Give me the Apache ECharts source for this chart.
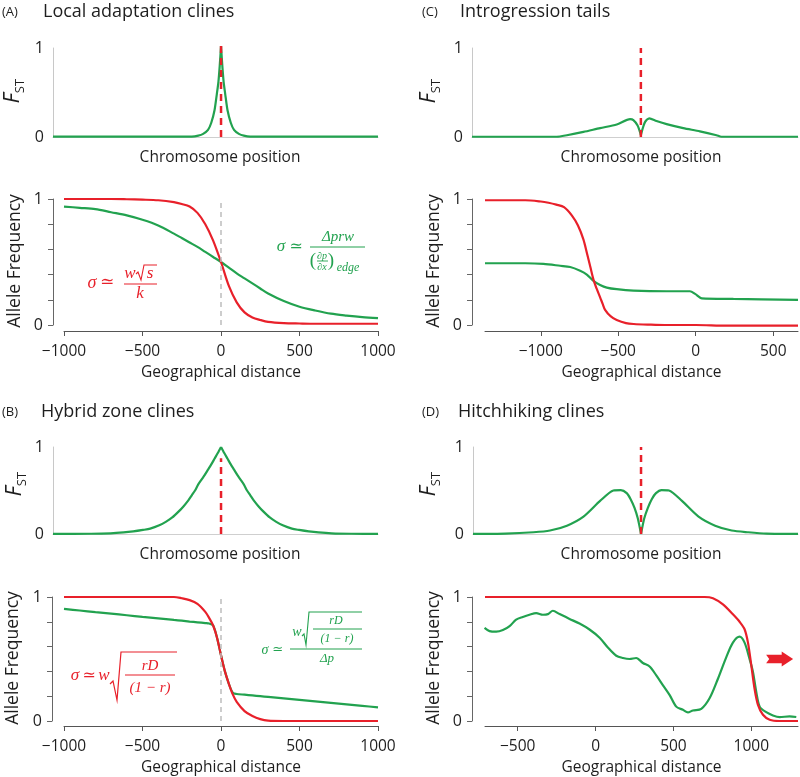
<!DOCTYPE html>
<html><head><meta charset="utf-8">
<script src="https://cdn.jsdelivr.net/npm/echarts@6/dist/echarts.min.js"></script>
<style>html,body{margin:0;padding:0;background:#fff}#c{width:800px;height:777px}</style>
</head><body><div id="c"></div><script>
// ---------- DATA ----------
// Top panels: F_ST along chromosome position (arbitrary 0..100 scale)
const fstA_x = [0, 42.7, 44.7, 46.2, 47.7, 48.7, 49.7, 50.4, 50.9, 51.3, 51.7, 52.1, 52.5, 53.0, 53.7, 54.7, 55.7, 57.2, 58.7, 60.7, 100];
const fstA_y = [0.005, 0.005, 0.015, 0.035, 0.08, 0.16, 0.3, 0.48, 0.62, 0.8, 1.02, 0.8, 0.62, 0.48, 0.3, 0.16, 0.08, 0.035, 0.015, 0.005, 0.005];
const fstB_x = [0, 11.7, 17.7, 21.7, 24.7, 27.7, 29.9, 32.7, 34.7, 36.7, 38.7, 40.2, 41.7, 42.7, 43.7, 44.7, 45.7, 46.7, 47.7, 48.7, 49.7, 50.7, 51.7,
                52.7, 53.7, 54.7, 55.7, 56.7, 57.7, 58.7, 59.7, 60.7, 61.7, 63.2, 64.7, 66.7, 68.7, 70.7, 73.5, 75.7, 78.7, 81.7, 85.7, 91.7, 100];
const fstB_y = [0.002, 0.003, 0.008, 0.018, 0.03, 0.047, 0.062, 0.10, 0.14, 0.19, 0.26, 0.32, 0.39, 0.445, 0.50, 0.57, 0.625, 0.68, 0.74, 0.80, 0.865, 0.93, 1.0,
                0.93, 0.865, 0.80, 0.74, 0.68, 0.625, 0.57, 0.50, 0.445, 0.39, 0.32, 0.26, 0.19, 0.14, 0.10, 0.062, 0.047, 0.03, 0.018, 0.008, 0.003, 0.002];
const fstC_x = [0, 26, 29.1, 34.2, 39.3, 44.4, 48.5, 49.5, 50.8, 51.5, 51.8, 52.2, 53.1, 54.4, 56.6, 59.7, 64.8, 69.9, 75, 76.5, 100];
const fstC_y = [0.003, 0.003, 0.02, 0.057, 0.10, 0.14, 0.2, 0.19, 0.13, 0.06, 0.02, 0.075, 0.17, 0.21, 0.18, 0.145, 0.10, 0.064, 0.02, 0.003, 0.003];
const fstD_x = [0, 10, 18.6, 23.7, 28.9, 34.0, 39.1, 43.2, 45.5, 47.3, 48.5, 49.7, 50.7, 51.7, 52.7, 53.8, 55.0, 56.3, 58.0, 60.3, 64.3, 69.4, 74.5, 79.6, 84.7, 90.3, 100];
const fstD_y = [0.002, 0.005, 0.02, 0.04, 0.096, 0.2, 0.38, 0.50, 0.505, 0.47, 0.40, 0.30, 0.18, 0.0, 0.18, 0.30, 0.40, 0.47, 0.505, 0.50, 0.38, 0.2, 0.096, 0.04, 0.02, 0.005, 0.002];
const selectedSite = [51.7, 51.7, 51.8, 51.7];     // red dashed marker positions (A, B, C, D)
const selectedTop  = [1.03, 0.87, 1.0, 1.0];       // red dashed marker heights

// Bottom panels: allele frequency vs geographical distance
const geoA_x  = [-1000,-900,-800,-700,-600,-500,-400,-300,-250,-200,-150,-100,-50,0,50,100,150,200,250,300,400,500,600,700,800,900,1000];
const redA    = [1.0,1.0,1.0,1.0,0.998,0.995,0.99,0.975,0.96,0.94,0.89,0.80,0.67,0.50,0.31,0.18,0.10,0.06,0.04,0.025,0.015,0.012,0.01,0.01,0.01,0.01,0.01];
const greenA  = [0.94,0.93,0.92,0.895,0.87,0.835,0.79,0.725,0.69,0.655,0.62,0.58,0.54,0.50,0.455,0.41,0.37,0.33,0.29,0.25,0.19,0.145,0.115,0.09,0.075,0.063,0.055];

const geoB_x  = [-1000,-900,-800,-700,-600,-500,-400,-300,-250,-200,-150,-100,-75,-50,-25,0,25,50,75,100,150,200,250,300,400,500,600,700,800,900,1000];
const redB    = [1,1,1,1,1,1,1,1,0.99,0.975,0.945,0.88,0.83,0.77,0.67,0.53,0.40,0.30,0.215,0.155,0.08,0.04,0.015,0.003,0,0,0,0,0,0,0];
const greenB  = [0.904,0.891,0.878,0.866,0.853,0.84,0.828,0.815,0.809,0.802,0.796,0.79,0.786,0.77,0.67,0.53,0.40,0.30,0.228,0.218,0.212,0.206,0.20,0.194,0.182,0.17,0.158,0.146,0.134,0.122,0.11];

const redC_x   = [-1360,-1200,-1100,-1000,-950,-900,-850,-800,-760,-725,-700,-680,-660,-640,-617,-600,-585,-550,-510,-450,-400,-300,-200,0,200,400,660];
const redC     = [0.99,0.99,0.99,0.98,0.97,0.955,0.935,0.87,0.79,0.68,0.56,0.46,0.36,0.29,0.22,0.165,0.12,0.07,0.04,0.015,0.008,0.003,0,0,-0.005,-0.005,-0.005];
const greenC_x = [-1360,-1100,-983,-875,-810,-746,-703,-660,-617,-574,-510,-402,-187,-37,-4,39,243,660];
const greenC   = [0.49,0.49,0.485,0.47,0.46,0.43,0.40,0.35,0.318,0.297,0.284,0.273,0.268,0.268,0.247,0.212,0.207,0.20];

const redD_x   = [-710,-500,0,500,700,754,818,882,925,957,979,1000,1021,1043,1075,1118,1182,1300];
const redD     = [1,1,1,1,1,0.99,0.94,0.86,0.80,0.74,0.63,0.45,0.26,0.13,0.05,0.01,0,0];
const greenD_x = [-713,-681,-638,-595,-552,-510,-467,-424,-381,-338,-306,-274,-231,-167,-103,-39,26,79,133,176,218,261,304,347,390,433,476,518,561,593,625,679,732,786,839,882,925,957,989,1011,1032,1054,1096,1139,1182,1246,1289];
const greenD   = [0.751,0.725,0.72,0.733,0.765,0.817,0.839,0.857,0.870,0.857,0.862,0.889,0.862,0.823,0.786,0.738,0.672,0.593,0.526,0.508,0.50,0.508,0.468,0.439,0.368,0.288,0.209,0.116,0.09,0.069,0.085,0.098,0.183,0.341,0.513,0.632,0.68,0.632,0.50,0.394,0.235,0.116,0.071,0.045,0.032,0.037,0.032];

const centreLinesA = [0];
const centreLinesB = [0];
const centreLinesC = [-690, 0];
const centreLinesD = [1000];
const arrowD = [1182, 0.5];

const ticksAB = [-1000, -500, 0, 500, 1000];
const ticksC  = [-1000, -500, 0, 500];
const ticksD  = [-500, 0, 500, 1000];
const yTicks  = [0, 0.2, 0.4, 0.6, 0.8, 1];
const yLabels = [0, 1];

// ---------- STYLE ----------
const GREEN = '#22a24f', RED = '#e8202a', TXT = '#1e1e1e', FONT = '"Open Sans", "Liberation Sans", sans-serif';
const MATH = '"Liberation Serif", "DejaVu Serif", serif';
const pairs = (xs, ys) => xs.map((x, i) => [x, ys[i]]);
const minus = v => (v < 0 ? '\u2212' + Math.abs(v) : String(v));

const grids = [
  {left: 53, top: 48, width: 325, height: 89},   // A top
  {left: 64, top: 199, width: 314, height: 126}, // A bottom
  {left: 472, top: 48, width: 326, height: 89},  // C top
  {left: 485, top: 199, width: 313, height: 126},// C bottom
  {left: 53, top: 447, width: 325, height: 87},  // B top
  {left: 64, top: 597, width: 314, height: 126}, // B bottom
  {left: 473, top: 447, width: 325, height: 87}, // D top
  {left: 485, top: 597, width: 313, height: 126} // D bottom
];

function topX(gi, padL) {
  return {type: 'value', gridIndex: gi, min: 0, max: 100,
    axisLine: {show: true, onZero: false, lineStyle: {color: '#cfcfcf', width: 1}},
    axisTick: {show: false}, axisLabel: {show: false}, splitLine: {show: false},
    name: 'Chromosome position', nameLocation: 'middle', nameGap: 13,
    nameTextStyle: {fontFamily: FONT, fontSize: 15.5, color: TXT, padding: [0, 0, 0, padL]}};
}
function topY(gi) {
  return {type: 'value', gridIndex: gi, min: 0, max: 1, interval: 1,
    axisLine: {show: true, onZero: false, lineStyle: {color: '#c8c8c8', width: 1}},
    axisTick: {show: false}, splitLine: {show: false},
    axisLabel: {fontFamily: FONT, fontSize: 16, color: TXT, margin: 9}};
}
function botX(gi, min, max, ticks, off) {
  return {type: 'value', gridIndex: gi, min, max, offset: off,
    axisLine: {show: true, onZero: false, lineStyle: {color: '#555', width: 1}},
    axisTick: {show: true, length: 5, customValues: ticks, lineStyle: {color: '#555'}},
    axisLabel: {customValues: ticks, formatter: minus, fontFamily: FONT, fontSize: 15.5, color: TXT, margin: 13},
    splitLine: {show: false},
    name: 'Geographical distance', nameLocation: 'middle', nameGap: 34,
    nameTextStyle: {fontFamily: FONT, fontSize: 15.5, color: TXT}};
}
function botY(gi, off) {
  return {type: 'value', gridIndex: gi, min: 0, max: 1, interval: 0.2, offset: off,
    axisLine: {show: true, onZero: false, lineStyle: {color: '#666', width: 1}},
    axisTick: {show: true, length: 5, customValues: yTicks, lineStyle: {color: '#666'}},
    axisLabel: {customValues: yLabels, fontFamily: FONT, fontSize: 16, color: TXT, margin: 10},
    splitLine: {show: false}};
}

function line(gi, data, color, extra) {
  return Object.assign({type: 'line', xAxisIndex: gi, yAxisIndex: gi, data, showSymbol: false,
    smooth: 0.3, clip: false, silent: true, animation: false,
    lineStyle: {color, width: 2.2}, itemStyle: {color}}, extra || {});
}
// top curve split at its cusp so the peak/dip stays sharp
function cuspLine(gi, xs, ys, cuspIdx) {
  const d = pairs(xs, ys);
  return [line(gi, d.slice(0, cuspIdx + 1), GREEN, {smooth: 0.25}), line(gi, d.slice(cuspIdx), GREEN, {smooth: 0.25})];
}
function redMark(gi, k) {
  return line(gi, [[selectedSite[k], 0], [selectedSite[k], selectedTop[k]]], RED,
    {smooth: false, z: 5, lineStyle: {color: RED, type: [7, 5], width: 2.5}});
}
function greyMarks(xs, lo) {
  return {silent: true, symbol: ['none', 'none'], label: {show: false},
    lineStyle: {color: '#bdbdbd', type: [5, 4], width: 1.5},
    data: xs.map(x => [{coord: [x, lo]}, {coord: [x, 1]}])};
}

// ---------- GRAPHIC TEXT ----------
function T(text, x, y, size, color, o) {
  o = o || {};
  return {type: 'text', x, y, rotation: o.rot || 0, silent: true, z: 100,
    style: {text, fill: color, fontSize: size, fontFamily: o.family || FONT,
      fontStyle: o.italic ? 'italic' : 'normal',
      align: o.align || 'center', verticalAlign: 'middle',
      textAlign: o.align || 'center', textVerticalAlign: 'middle', rich: o.rich}};
}
const M = (t, x, y, s, c, it) => T(t, x, y, s, c, {family: MATH, italic: it !== false});
const L = (x1, y1, x2, y2, c, w) => ({type: 'line', silent: true, z: 100, shape: {x1, y1, x2, y2}, style: {stroke: c, lineWidth: w || 1.2}});
const P = (pts, c, w) => ({type: 'polyline', silent: true, z: 100, shape: {points: pts}, style: {stroke: c, fill: null, lineWidth: w || 1.2}});

const fstRich = {f: {fontSize: 21, fontStyle: 'italic', fontFamily: FONT, fill: TXT},
                 s: {fontSize: 13, fontFamily: FONT, fill: TXT, verticalAlign: 'bottom', padding: [0, 0, -3, 0]}};
const fstLabel = (x, y) => T('{f|F}{s|ST}', x, y, 20, TXT, {rot: Math.PI / 2, rich: fstRich});
const afLabel = (x, y) => T('Allele Frequency', x, y, 17.5, TXT, {rot: Math.PI / 2});

const graphics = [
  T('(A)', 2, 12, 13, TXT, {align: 'left'}), T('Local adaptation clines', 43, 12, 18, TXT, {align: 'left'}),
  T('(C)', 422, 12, 13, TXT, {align: 'left'}), T('Introgression tails', 460, 12, 18, TXT, {align: 'left'}),
  T('(B)', 2, 412, 13, TXT, {align: 'left'}), T('Hybrid zone clines', 41, 412, 18, TXT, {align: 'left'}),
  T('(D)', 422, 412, 13, TXT, {align: 'left'}), T('Hitchhiking clines', 458, 412, 18, TXT, {align: 'left'}),
  fstLabel(13, 91), fstLabel(429, 91), fstLabel(15, 484), fstLabel(429, 484),
  afLabel(15, 261), afLabel(434, 261), afLabel(13, 658), afLabel(434, 658),
  // (A) red formula
  M('\u03c3', 92, 283, 18, RED), M('\u2243', 107, 283, 17, RED, false),
  M('w', 130, 274, 17, RED), P([[136, 274], [138, 272], [141, 280], [144, 265], [157, 265]], RED, 1.1), M('s', 150, 274, 17, RED),
  L(124, 284, 157, 284, RED), M('k', 140, 294, 17, RED),
  // (A) green formula
  M('\u03c3', 281, 247, 17, GREEN), M('\u2243', 296, 247, 16, GREEN, false),
  M('\u0394prw', 338, 237, 15, GREEN), L(310, 247, 365, 247, GREEN),
  M('(', 313, 261, 19, GREEN, false), M('\u2202p', 322, 256, 10, GREEN), L(317, 261, 328, 261, GREEN, 0.9),
  M('\u2202x', 322, 267, 10, GREEN), M(')', 331, 261, 19, GREEN, false), M('edge', 348, 268, 12, GREEN),
  // (B) red formula
  M('\u03c3', 75, 676, 17, RED), M('\u2243', 89, 676, 16, RED, false), M('w', 104, 676, 17, RED),
  P([[110, 684], [113, 681], [117, 700], [121, 652], [177, 652]], RED, 1.2),
  M('rD', 150, 666, 15, RED), L(125, 675, 175, 675, RED), M('(1 \u2212 r)', 150, 688, 15, RED),
  // (B) green formula
  M('\u03c3', 265, 650, 14, GREEN), M('\u2243', 278, 650, 13, GREEN, false), M('w', 297, 632, 14, GREEN),
  P([[302, 636], [304, 634], [306, 645], [309, 612], [362, 612]], GREEN, 1.1),
  M('rD', 336, 621, 12, GREEN), L(313, 629, 362, 629, GREEN, 1), M('(1 \u2212 r)', 337, 639, 12, GREEN),
  L(290, 649, 362, 649, GREEN), M('\u0394p', 327, 659, 13, GREEN)
];

const option = {
  backgroundColor: '#fff',
  animation: false,
  grid: grids,
  xAxis: [topX(0, 9), botX(1, -1000, 1000, ticksAB, 6), topX(2, 12), botX(3, -1360, 660, ticksC, 6),
          topX(4, 9), botX(5, -1000, 1000, ticksAB, 5), topX(6, 11), botX(7, -710, 1300, ticksD, 5)],
  yAxis: [topY(0), botY(1, 11), topY(2), botY(3, 13), topY(4), botY(5, 12), topY(6), botY(7, 13)],
  series: [
    ...cuspLine(0, fstA_x, fstA_y, 10), redMark(0, 0),
    line(1, pairs(geoA_x, greenA), GREEN, {markLine: greyMarks(centreLinesA, 0)}),
    line(1, pairs(geoA_x, redA), RED),
    ...cuspLine(2, fstC_x, fstC_y, 10), redMark(2, 2),
    line(3, pairs(greenC_x, greenC), GREEN, {markLine: greyMarks(centreLinesC, -0.01)}),
    line(3, pairs(redC_x, redC), RED),
    ...cuspLine(4, fstB_x, fstB_y, 22), redMark(4, 1),
    line(5, pairs(geoB_x, greenB), GREEN, {markLine: greyMarks(centreLinesB, 0)}),
    line(5, pairs(geoB_x, redB), RED),
    ...cuspLine(6, fstD_x, fstD_y, 13), redMark(6, 3),
    line(7, pairs(greenD_x, greenD), GREEN, {markLine: greyMarks(centreLinesD, -0.03)}),
    line(7, pairs(redD_x, redD), RED, {markPoint: {silent: true,
      symbol: 'path://M0,3 L15,3 L15,0 L26,7 L15,14 L15,11 L0,11 L3,7 Z', symbolSize: [27, 15],
      itemStyle: {color: RED}, label: {show: false}, data: [{coord: arrowD}]}})
  ],
  graphic: graphics
};
const chart = echarts.init(document.getElementById('c'), null, {renderer: 'canvas'});
chart.setOption(option);
</script></body></html>
